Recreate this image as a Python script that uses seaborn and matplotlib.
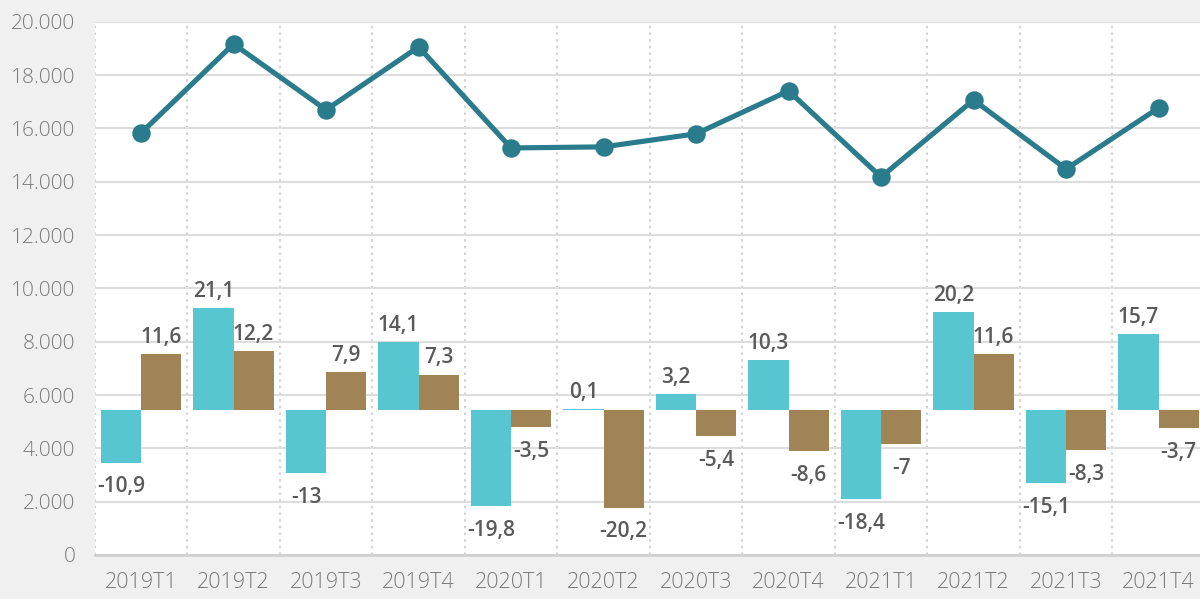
import matplotlib
matplotlib.use('Agg')
import matplotlib.pyplot as plt
import seaborn as sns
import pandas as pd
import numpy as np
from matplotlib.ticker import FuncFormatter, MultipleLocator

# ---- data ----
periodos = ['2019T1', '2019T2', '2019T3', '2019T4',
            '2020T1', '2020T2', '2020T3', '2020T4',
            '2021T1', '2021T2', '2021T3', '2021T4']
linea_valores = [15830, 19170, 16700, 19060, 15270, 15310,
                 15800, 17410, 14180, 17070, 14480, 16770]
serie_a = [-10.9, 21.1, -13, 14.1, -19.8, 0.1, 3.2, 10.3, -18.4, 20.2, -15.1, 15.7]
serie_b = [11.6, 12.2, 7.9, 7.3, -3.5, -20.2, -5.4, -8.6, -7, 11.6, -8.3, -3.7]
nombres_series = ['Serie A', 'Serie B']

# ---- style ----
sns.set_theme(style='white')
plt.rcParams['font.family'] = ['Open Sans', 'DejaVu Sans']

col_line = '#2a7b8c'
col_a = '#57c6d1'
col_b = '#a08456'
tick_col = '#7a7a7a'
lab_col = '#5a5a5a'

fig = plt.figure(figsize=(12, 5.99), dpi=100, facecolor='#f0f0f0')
ax = fig.add_axes([0.079, 0.0735, 0.925, 0.89])
ax.set_facecolor('white')
ax2 = ax.twinx()

df = pd.DataFrame({
    'periodo': periodos * 2,
    'serie': [nombres_series[0]] * len(periodos) + [nombres_series[1]] * len(periodos),
    'valor': serie_a + serie_b,
})

sns.barplot(data=df, x='periodo', y='valor', hue='serie', order=periodos,
            palette=[col_a, col_b], width=0.866, saturation=1, ax=ax2,
            legend=False, linewidth=0, errorbar=None)

sns.pointplot(x=periodos, y=linea_valores, ax=ax, color=col_line,
              markersize=10.5, linewidth=3.7, errorbar=None)

# data labels
def fmt(v):
    if float(v).is_integer():
        s = f"{int(v)}"
    else:
        s = f"{v:.1f}".replace('.', ',')
    return s

for cont, vals in zip(ax2.containers, [serie_a, serie_b]):
    for p, v in zip(cont, vals):
        x = p.get_x() + p.get_width() / 2
        y = v
        if v >= 0:
            ax2.annotate(fmt(v), (x, y), xytext=(0, 8), textcoords='offset points',
                         ha='center', va='baseline', fontsize=15, fontweight='semibold',
                         color=lab_col)
        else:
            ax2.annotate(fmt(v), (x, y), xytext=(0, -10), textcoords='offset points',
                         ha='center', va='top', fontsize=15, fontweight='semibold',
                         color=lab_col)

# axes
ax.set_xlim(-0.5, len(periodos) - 0.5)
ax.set_ylim(0, 20000)
ax2.set_ylim(-30, 80.2)
ax.yaxis.set_major_locator(MultipleLocator(2000))
ax.yaxis.set_major_formatter(FuncFormatter(lambda v, p: f"{int(v):,}".replace(',', '.')))
ax2.set_yticks([])
ax.set_xticks(np.arange(-0.5, len(periodos), 1), minor=True)

ax.grid(axis='y', which='major', color='#dddddd', lw=1.5)
ax.grid(axis='x', which='major', visible=False)
ax.grid(axis='x', which='minor', color='#d3d3d3', ls=(0, (1.2, 2)), lw=1.5)
ax.set_axisbelow(True)

ax.tick_params(which='both', length=0)
ax.tick_params(axis='y', labelsize=15, labelcolor=tick_col, pad=14)
ax.tick_params(axis='x', labelsize=15.5, labelcolor=tick_col, pad=12)
for t in ax.get_xticklabels() + ax.get_yticklabels():
    t.set_fontweight('light')

for s in ['top', 'right', 'left']:
    ax.spines[s].set_visible(False)
ax.spines['bottom'].set_color('#d0d0d0')
ax.spines['bottom'].set_linewidth(2)
for s in ax2.spines.values():
    s.set_visible(False)

for a in (ax, ax2):
    a.set_xlabel('')
    a.set_ylabel('')

fig.savefig('out.png', dpi=100, facecolor=fig.get_facecolor())
